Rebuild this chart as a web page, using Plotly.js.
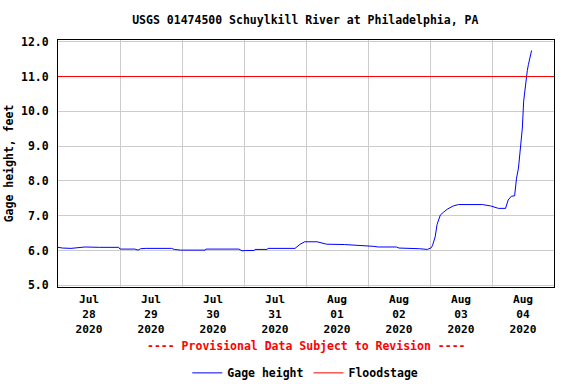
<!DOCTYPE html>
<html>
<head>
<meta charset="utf-8">
<script src="https://cdn.plot.ly/plotly-3.0.1.min.js"></script>
<style>html,body{margin:0;padding:0;background:#fff;}#chart{width:576px;height:384px;}</style>
</head>
<body>
<div id="chart"></div>
<script>
// Gage height readings (time, feet)
var gageTimes = [
  "2020-07-28 00:00","2020-07-28 01:45","2020-07-28 05:00","2020-07-28 10:30","2020-07-28 16:00","2020-07-28 23:30",
  "2020-07-29 00:00","2020-07-29 05:45","2020-07-29 07:00","2020-07-29 08:00","2020-07-29 10:00","2020-07-29 20:00",
  "2020-07-29 21:00","2020-07-29 23:30","2020-07-30 09:00","2020-07-30 09:15","2020-07-30 22:00","2020-07-30 23:15",
  "2020-07-31 00:30","2020-07-31 04:00","2020-07-31 04:15","2020-07-31 09:00","2020-07-31 09:15","2020-07-31 19:45",
  "2020-07-31 21:45","2020-07-31 23:30","2020-08-01 04:15","2020-08-01 06:30","2020-08-01 08:00","2020-08-01 15:00",
  "2020-08-01 22:00","2020-08-02 02:00","2020-08-02 04:00","2020-08-02 11:00","2020-08-02 12:00","2020-08-02 17:30",
  "2020-08-02 20:00","2020-08-02 23:00","2020-08-03 00:30","2020-08-03 01:00","2020-08-03 02:00","2020-08-03 02:45",
  "2020-08-03 04:00","2020-08-03 05:15","2020-08-03 06:45","2020-08-03 09:00","2020-08-03 11:00","2020-08-03 20:15",
  "2020-08-03 23:30","2020-08-04 02:30","2020-08-04 05:15","2020-08-04 06:15","2020-08-04 07:30","2020-08-04 08:45",
  "2020-08-04 09:30","2020-08-04 10:15","2020-08-04 11:00","2020-08-04 11:45","2020-08-04 12:15","2020-08-04 12:55",
  "2020-08-04 13:40","2020-08-04 14:05","2020-08-04 14:50","2020-08-04 15:20"
];
var gageHeights = [
  6.09,6.07,6.06,6.10,6.09,6.09,
  6.04,6.04,6.01,6.05,6.06,6.06,
  6.03,6.01,6.01,6.04,6.04,5.99,
  6.00,6.00,6.03,6.03,6.06,6.06,
  6.18,6.25,6.25,6.21,6.18,6.17,
  6.15,6.12,6.10,6.10,6.07,6.07,
  6.05,6.03,6.08,6.15,6.39,6.75,
  7.02,7.10,7.19,7.28,7.32,7.32,
  7.28,7.21,7.21,7.45,7.56,7.57,
  8.08,8.37,8.95,9.52,10.29,10.77,
  11.17,11.34,11.63,11.75
];
var floodTimes = ["2020-07-28 00:00","2020-08-05 00:00"];
var floodStage = [11.0, 11.0];

var titleText = "USGS 01474500 Schuylkill River at Philadelphia, PA";
var yTitle = "Gage height, feet";
var noteText = "---- Provisional Data Subject to Revision ----";

var mono = "DejaVu Sans Mono";
var fs = 11.5;

var traces = [
  {x: gageTimes, y: gageHeights, type: "scatter", mode: "lines", name: "Gage height",
   line: {color: "#0000ff", width: 1}},
  {x: floodTimes, y: floodStage, type: "scatter", mode: "lines", name: "Floodstage",
   line: {color: "#ff0000", width: 1}}
];

var layout = {
  width: 576, height: 384,
  margin: {l: 58, r: 22, t: 40, b: 97},
  paper_bgcolor: "#fff", plot_bgcolor: "#fff",
  font: {family: mono, size: fs, color: "#000", weight: "bold"},
  title: {text: titleText, x: 0.53, xanchor: "center", yref: "container", y: 0.948, yanchor: "middle",
          font: {family: mono, size: fs, color: "#000", weight: "bold"}},
  xaxis: {
    type: "date",
    range: ["2020-07-28 00:00", "2020-08-05 00:00"],
    tick0: "2020-07-28", dtick: 86400000,
    tickformat: "%b<br>%d<br>%Y",
    ticklabelmode: "period",
    showgrid: true, gridcolor: "#cccccc", gridwidth: 1,
    ticks: "", ticklabelstandoff: 2,
    showline: true, linecolor: "#000", linewidth: 1, mirror: true,
    zeroline: false,
    tickfont: {family: mono, size: 11.2, color: "#000", weight: "bold"}
  },
  yaxis: {
    range: [4.95, 12.05],
    tick0: 5, dtick: 1, tickformat: ".1f",
    showgrid: true, gridcolor: "#cccccc", gridwidth: 1,
    ticks: "", ticklabelstandoff: 6,
    showline: true, linecolor: "#000", linewidth: 1, mirror: true,
    zeroline: false,
    tickfont: {family: mono, size: fs, color: "#000", weight: "bold"},
    title: {text: yTitle, standoff: 4, font: {family: mono, size: fs, color: "#000", weight: "bold"}}
  },
  showlegend: true,
  legend: {orientation: "h", x: 0.53, xref: "container", xanchor: "center",
           yref: "container", y: 0.029, yanchor: "middle",
           font: {family: mono, size: fs, color: "#000", weight: "bold"},
           bgcolor: "rgba(0,0,0,0)", itemwidth: 30, tracegroupgap: 0},
  annotations: [
    {text: noteText, xref: "paper", yref: "paper", x: 0.5, y: -0.237, xanchor: "center", yanchor: "middle",
     showarrow: false, font: {family: mono, size: fs, color: "#ff0000", weight: "bold"}}
  ]
};

Plotly.newPlot("chart", traces, layout, {displayModeBar: false, staticPlot: true});
</script>
</body>
</html>
